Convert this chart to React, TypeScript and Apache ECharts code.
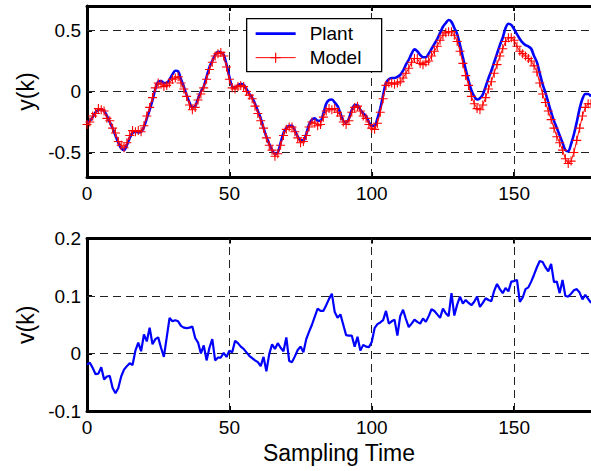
import React, { useEffect, useRef } from 'react';
import * as echarts from 'echarts';

// Plant output y(k), one value per sample k = 0..177
const plantY = [
  -0.255, -0.24, -0.21, -0.17, -0.15, -0.145, -0.16, -0.2, -0.25, -0.3,
  -0.36, -0.42, -0.465, -0.48, -0.44, -0.38, -0.34, -0.33, -0.335, -0.33,
  -0.29, -0.22, -0.15, -0.07, 0.02, 0.08, 0.085, 0.07, 0.07, 0.1,
  0.14, 0.17, 0.165, 0.1, 0.04, -0.03, -0.09, -0.13, -0.12, -0.06,
  0.0, 0.04, 0.12, 0.2, 0.25, 0.3, 0.325, 0.32, 0.3, 0.22,
  0.12, 0.04, 0.03, 0.05, 0.06, 0.055, 0.02, -0.02, -0.05, -0.1,
  -0.16, -0.22, -0.3, -0.37, -0.43, -0.48, -0.51, -0.5, -0.42, -0.34,
  -0.3, -0.28, -0.28, -0.32, -0.37, -0.4, -0.4, -0.35, -0.27, -0.23,
  -0.22, -0.24, -0.24, -0.18, -0.1, -0.07, -0.065, -0.09, -0.12, -0.18,
  -0.24, -0.255, -0.22, -0.15, -0.11, -0.11, -0.15, -0.18, -0.2, -0.25,
  -0.28, -0.28, -0.22, -0.14, -0.03, 0.07, 0.1, 0.11, 0.11, 0.12,
  0.135, 0.17, 0.22, 0.26, 0.31, 0.345, 0.33, 0.3, 0.28, 0.28,
  0.31, 0.35, 0.39, 0.43, 0.48, 0.53, 0.56, 0.585, 0.57, 0.52,
  0.47, 0.38, 0.28, 0.18, 0.09, 0.01, -0.04, -0.065, -0.055, -0.025,
  0.04, 0.11, 0.17, 0.24, 0.31, 0.38, 0.44, 0.52, 0.555, 0.545,
  0.51, 0.47, 0.43, 0.4, 0.38, 0.37, 0.35, 0.29, 0.24, 0.15,
  0.06, -0.01, -0.09, -0.17, -0.24, -0.3, -0.36, -0.42, -0.48, -0.49,
  -0.43, -0.35, -0.25, -0.14, -0.06, -0.02, -0.02, -0.04,
];

// Model output, one value per sample k = 0..177
const modelY = [
  -0.27, -0.25, -0.2, -0.18, -0.14, -0.15, -0.16, -0.22, -0.24, -0.3,
  -0.34, -0.41, -0.44, -0.46, -0.42, -0.36, -0.32, -0.33, -0.32, -0.33,
  -0.28, -0.2, -0.13, -0.05, 0.03, 0.07, 0.06, 0.04, 0.05, 0.07,
  0.1, 0.11, 0.12, 0.07, 0.02, -0.04, -0.11, -0.15, -0.13, -0.07,
  -0.02, 0.03, 0.1, 0.18, 0.24, 0.29, 0.31, 0.32, 0.29, 0.2,
  0.1, 0.03, 0.02, 0.04, 0.05, 0.04, 0.0, -0.03, -0.06, -0.12,
  -0.18, -0.24, -0.3, -0.38, -0.44, -0.48, -0.53, -0.51, -0.44, -0.36,
  -0.31, -0.29, -0.29, -0.33, -0.38, -0.42, -0.41, -0.36, -0.29, -0.25,
  -0.26, -0.28, -0.27, -0.21, -0.16, -0.14, -0.15, -0.14, -0.17, -0.2,
  -0.25, -0.27, -0.24, -0.17, -0.13, -0.12, -0.16, -0.2, -0.22, -0.27,
  -0.3, -0.31, -0.26, -0.17, -0.06, 0.05, 0.07, 0.07, 0.06, 0.07,
  0.08, 0.11, 0.15, 0.19, 0.24, 0.27, 0.27, 0.23, 0.22, 0.24,
  0.25, 0.29, 0.33, 0.37, 0.42, 0.46, 0.48, 0.49, 0.49, 0.46,
  0.41, 0.33, 0.23, 0.13, 0.05, -0.04, -0.1, -0.14, -0.15, -0.11,
  -0.05, 0.02, 0.08, 0.15, 0.22, 0.29, 0.35, 0.41, 0.44, 0.44,
  0.42, 0.37, 0.33, 0.31, 0.29, 0.27, 0.25, 0.21, 0.16, 0.07,
  -0.02, -0.09, -0.16, -0.23, -0.3, -0.37, -0.42, -0.48, -0.55, -0.59,
  -0.57, -0.5, -0.4, -0.3, -0.2, -0.13, -0.1, -0.1,
];

// v(k), one value per sample k = 0..177
const vY = [
  -0.019, -0.016, -0.025, -0.036, -0.035, -0.024, -0.045, -0.04, -0.039, -0.06,
  -0.069, -0.06, -0.04, -0.028, -0.022, -0.017, -0.02, 0.005, 0.019, 0.004,
  0.033, 0.021, 0.045, 0.016, 0.025, 0.028, 0.01, -0.006, 0.028, 0.062,
  0.056, 0.058, 0.056, 0.048, 0.045, 0.044, 0.045, 0.047, 0.027, 0.019,
  0.0, 0.014, -0.012, 0.01, 0.025, -0.012, -0.007, -0.007, 0.001, -0.006,
  0.005, 0.002, 0.022, 0.018, 0.012, 0.008, 0.002, -0.004, -0.008, -0.012,
  -0.015, -0.022, -0.006, -0.031, -0.001, 0.016, 0.008, 0.018, 0.01, 0.004,
  0.028, -0.013, -0.015, -0.005, 0.006, 0.012, 0.002, 0.025, 0.038, 0.05,
  0.064, 0.078, 0.074, 0.074, 0.084, 0.095, 0.104, 0.072, 0.062, 0.068,
  0.05, 0.032, 0.031, 0.031, 0.012, 0.029, 0.005, 0.015, 0.012, 0.011,
  0.02, 0.044, 0.051, 0.054, 0.058, 0.074, 0.052, 0.056, 0.059, 0.031,
  0.065, 0.076, 0.06, 0.046, 0.052, 0.059, 0.055, 0.052, 0.061, 0.055,
  0.065, 0.077, 0.074, 0.068, 0.062, 0.078, 0.07, 0.065, 0.105, 0.066,
  0.085, 0.099, 0.087, 0.093, 0.088, 0.084, 0.09, 0.099, 0.081, 0.088,
  0.096, 0.093, 0.091, 0.109, 0.121, 0.112, 0.105, 0.114, 0.108, 0.125,
  0.126, 0.128, 0.09, 0.097, 0.112, 0.115, 0.125, 0.137, 0.15, 0.161,
  0.159, 0.15, 0.143, 0.156, 0.124, 0.125, 0.105, 0.128, 0.1, 0.099,
  0.104, 0.11, 0.112, 0.106, 0.094, 0.102, 0.095, 0.088,
];

const xTicks = [0, 50, 100, 150];
const xGrid = [50, 100, 150];
const yTicksTop = [-0.5, 0, 0.5];
const yGridTop = [-0.5, 0, 0.5];
const yTicksBottom = [-0.1, 0, 0.1, 0.2];
const yGridBottom = [0, 0.1];
const seriesNames = ['Plant', 'Model'];

const FONT = '"Liberation Sans", Arial, Helvetica, sans-serif';
const BLUE = '#0000ff';
const RED = '#ff0000';
const CROSS = 'path://M4.4,0H5.6V10H4.4ZM0,4.4H10V5.6H0Z';

export default function App() {
  const ref = useRef<HTMLDivElement>(null);

  useEffect(() => {
    if (!ref.current) return;
    const chart = echarts.init(ref.current, undefined, { renderer: 'svg' });

    const axisLine = { show: true, onZero: false, lineStyle: { color: '#000', width: 3 } };
    const tick = (vals: number[]) => ({
      show: true, inside: true, length: 5, customValues: vals,
      lineStyle: { color: '#000', width: 2 },
    });
    const label = (vals: number[], margin: number) => ({
      show: true, customValues: vals, margin, color: '#000', fontSize: 19, fontFamily: FONT,
    });
    const nameStyle = { color: '#000', fontSize: 23, fontFamily: FONT };

    const mkX = (gridIndex: number, withName: boolean) => ({
      type: 'value', gridIndex, min: 0, max: 177, position: 'bottom',
      axisLine, axisTick: tick(xTicks), axisLabel: label(xTicks, 7),
      splitLine: { show: false },
      name: withName ? 'Sampling Time' : '', nameLocation: 'middle', nameGap: 30,
      nameTextStyle: nameStyle,
    });
    const mkXTop = (gridIndex: number) => ({
      type: 'value', gridIndex, min: 0, max: 177, position: 'top',
      axisLine, axisTick: tick(xGrid), axisLabel: { show: false }, splitLine: { show: false },
    });

    const gridLine = (xs: number[], ys: number[]) => ({
      silent: true, symbol: ['none', 'none'], z: 1,
      label: { show: false },
      lineStyle: { color: '#222', width: 1, type: [8, 5] },
      emphasis: { disabled: true },
      data: [...xs.map((v) => ({ xAxis: v })), ...ys.map((v) => ({ yAxis: v }))],
    });

    const Z = 100;
    chart.setOption({
      animation: false,
      backgroundColor: '#fff',
      grid: [
        { left: 87, top: 6, width: 504, height: 171 },
        { left: 87, top: 238.5, width: 504, height: 172.5 },
      ],
      xAxis: [mkX(0, false), mkXTop(0), mkX(1, true), mkXTop(1)],
      yAxis: [
        {
          type: 'value', gridIndex: 0, min: -0.7, max: 0.7,
          axisLine, axisTick: tick(yTicksTop), axisLabel: label(yTicksTop, 6),
          splitLine: { show: false },
          name: 'y(k)', nameLocation: 'middle', nameGap: 48, nameRotate: 90,
          nameTextStyle: nameStyle,
        },
        {
          type: 'value', gridIndex: 1, min: -0.1, max: 0.2,
          axisLine, axisTick: tick(yTicksBottom), axisLabel: label(yTicksBottom, 6),
          splitLine: { show: false },
          name: 'v(k)', nameLocation: 'middle', nameGap: 48, nameRotate: 90,
          nameTextStyle: nameStyle,
        },
      ],
      series: [
        {
          name: seriesNames[1], type: 'line', xAxisIndex: 0, yAxisIndex: 0,
          data: modelY.map((v, i) => [i, v]),
          symbol: CROSS, symbolSize: 9, showSymbol: true,
          itemStyle: { color: RED }, lineStyle: { color: RED, width: 1 },
          z: 3,
        },
        {
          name: seriesNames[0], type: 'line', xAxisIndex: 0, yAxisIndex: 0,
          data: plantY.map((v, i) => [i, v]),
          symbol: 'none', smooth: 0.3,
          lineStyle: { color: BLUE, width: 2.6 },
          markLine: gridLine(xGrid, yGridTop),
          z: 2,
        },
        {
          name: 'v', type: 'line', xAxisIndex: 2, yAxisIndex: 1,
          data: vY.map((v, i) => [i, v]),
          symbol: 'none',
          lineStyle: { color: BLUE, width: 2.2 },
          markLine: gridLine(xGrid, yGridBottom),
          z: 2,
        },
      ],
      graphic: [
        {
          type: 'group', left: 246, top: 18, z: Z,
          children: [
            { type: 'rect', z: Z, shape: { x: 0, y: 0, width: 135, height: 53 },
              style: { fill: '#fff', stroke: '#000', lineWidth: 1.3 } },
            { type: 'line', z: Z + 1, shape: { x1: 9, y1: 15, x2: 49, y2: 15 },
              style: { stroke: BLUE, lineWidth: 2.6 } },
            { type: 'line', z: Z + 1, shape: { x1: 9, y1: 39, x2: 49, y2: 39 },
              style: { stroke: RED, lineWidth: 1 } },
            { type: 'line', z: Z + 1, shape: { x1: 29, y1: 34, x2: 29, y2: 44 },
              style: { stroke: RED, lineWidth: 1.2 } },
            { type: 'line', z: Z + 1, shape: { x1: 24, y1: 39, x2: 34, y2: 39 },
              style: { stroke: RED, lineWidth: 1.2 } },
            { type: 'text', z: Z + 1, x: 63, y: 15,
              style: { text: seriesNames[0], fill: '#000', font: `19px ${FONT}`, verticalAlign: 'middle' } },
            { type: 'text', z: Z + 1, x: 63, y: 39,
              style: { text: seriesNames[1], fill: '#000', font: `19px ${FONT}`, verticalAlign: 'middle' } },
          ],
        },
      ],
    });

    return () => chart.dispose();
  }, []);

  return (
    <div
      ref={ref}
      style={{ position: 'fixed', left: 0, top: 0, width: 591, height: 471, background: '#fff' }}
    />
  );
}
